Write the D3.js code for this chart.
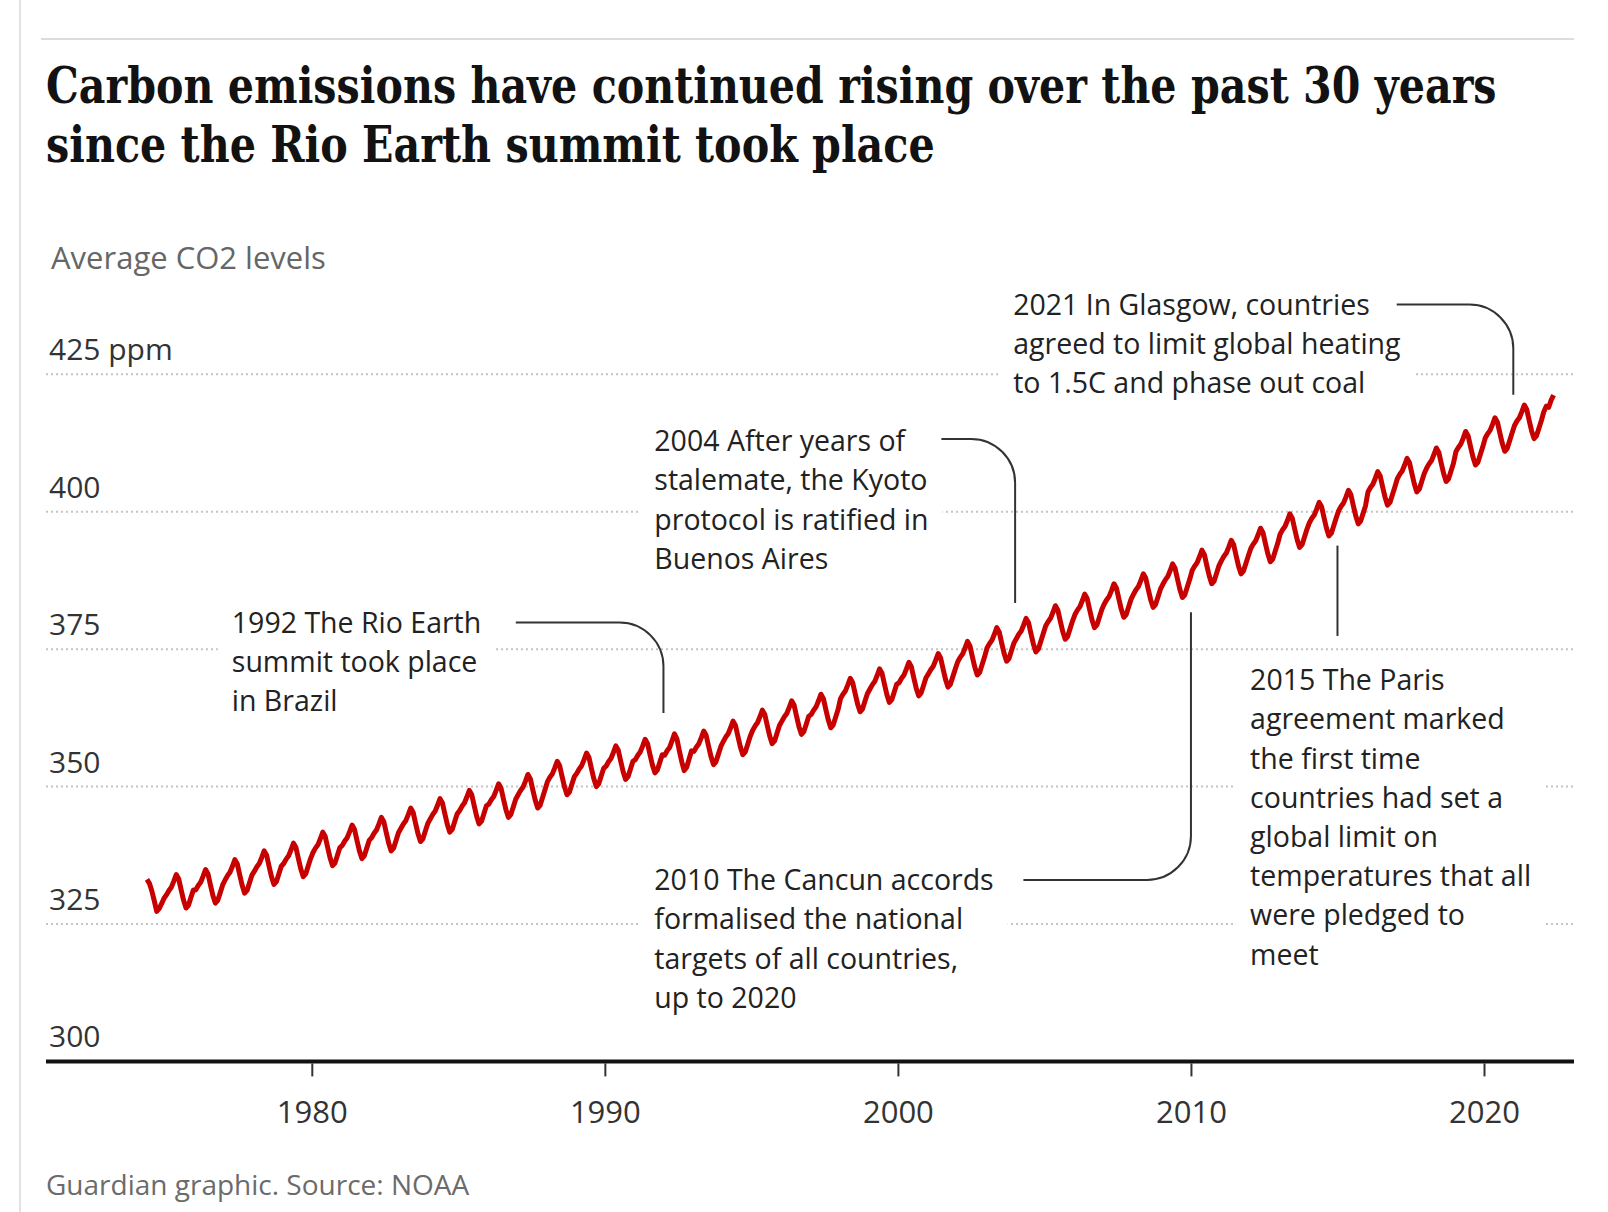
<!DOCTYPE html>
<meta charset="utf-8">
<script src="https://d3js.org/d3.v7.min.js"></script>
<style>
  body { margin: 0; background: #fff; }
  svg text { font-family: "Open Sans", sans-serif; }
</style>
<div id="chart"></div>
<script>

// Monthly mean CO2 (ppm), Mauna Loa. Series starts May 1974
var startYear = 1974, startMonth = 5;

var co2_1970s = [
  333.1, 332.4, 331.0, 329.2, 327.3, 327.8, 328.7, 329.7,
  330.3, 331.1, 331.7, 332.8, 334.0, 333.2, 331.2, 329.3, 327.9, 328.4, 329.8, 331.2,
  331.2, 332.0, 332.6, 333.7, 334.9, 334.1, 332.1, 330.2, 328.8, 329.3, 330.7, 332.1,
  333.0, 333.8, 334.4, 335.5, 336.7, 335.9, 333.9, 332.0, 330.6, 331.1, 332.5, 333.9,
  334.6, 335.4, 336.0, 337.1, 338.3, 337.5, 335.5, 333.6, 332.2, 332.7, 334.1, 335.5,
  336.0, 336.8, 337.4, 338.5, 339.7, 338.9, 336.9, 335.0, 333.6, 334.1, 335.5, 336.9
];
var co2_1980s = [
  338.0, 338.8, 339.4, 340.5, 341.7, 340.9, 338.9, 337.0, 335.6, 336.1, 337.5, 338.9,
  339.3, 340.1, 340.7, 341.8, 343.0, 342.2, 340.2, 338.3, 336.9, 337.4, 338.8, 340.2,
  340.7, 341.5, 342.1, 343.2, 344.4, 343.6, 341.6, 339.7, 338.3, 338.8, 340.2, 341.6,
  342.4, 343.2, 343.8, 344.9, 346.1, 345.3, 343.3, 341.4, 340.0, 340.5, 341.9, 343.3,
  344.1, 344.9, 345.5, 346.6, 347.8, 347.0, 345.0, 343.1, 341.7, 342.2, 343.6, 345.0,
  345.6, 346.4, 347.0, 348.1, 349.3, 348.5, 346.5, 344.6, 343.2, 343.7, 345.1, 346.5,
  346.8, 347.6, 348.2, 349.3, 350.5, 349.7, 347.7, 345.8, 344.4, 344.9, 346.3, 347.7,
  348.5, 349.3, 349.9, 351.0, 352.2, 351.4, 349.4, 347.5, 346.1, 346.6, 348.0, 349.4,
  350.9, 351.7, 352.3, 353.4, 354.6, 353.8, 351.8, 349.9, 348.5, 349.0, 350.4, 351.8,
  352.4, 353.2, 353.8, 354.9, 356.1, 355.3, 353.3, 351.4, 350.0, 350.5, 351.9, 353.3
];
var co2_1990s = [
  353.7, 354.5, 355.1, 356.2, 357.4, 356.6, 354.6, 352.7, 351.3, 351.8, 353.2, 354.6,
  354.9, 355.7, 356.3, 357.4, 358.6, 357.8, 355.8, 353.9, 352.5, 353.0, 354.4, 355.8,
  355.7, 356.5, 357.1, 358.3, 359.6, 358.7, 356.5, 354.5, 352.9, 353.5, 355.0, 356.5,
  356.4, 357.2, 357.8, 358.9, 360.1, 359.3, 357.3, 355.4, 354.0, 354.5, 355.9, 357.3,
  358.2, 359.0, 359.6, 360.7, 361.9, 361.1, 359.1, 357.2, 355.8, 356.3, 357.7, 359.1,
  360.2, 361.0, 361.6, 362.7, 363.9, 363.1, 361.1, 359.2, 357.8, 358.3, 359.7, 361.1,
  361.9, 362.7, 363.3, 364.4, 365.6, 364.8, 362.8, 360.9, 359.5, 360.0, 361.4, 362.8,
  363.1, 363.9, 364.5, 365.6, 366.8, 366.0, 364.0, 362.1, 360.7, 361.2, 362.6, 364.0,
  366.0, 366.8, 367.4, 368.5, 369.7, 368.9, 366.9, 365.0, 363.6, 364.1, 365.5, 366.9,
  367.7, 368.5, 369.1, 370.2, 371.4, 370.6, 368.6, 366.7, 365.3, 365.8, 367.2, 368.6
];
var co2_2000s = [
  368.9, 369.7, 370.3, 371.4, 372.6, 371.8, 369.8, 367.9, 366.5, 367.0, 368.4, 369.8,
  370.5, 371.3, 371.9, 373.0, 374.2, 373.4, 371.4, 369.5, 368.1, 368.6, 370.0, 371.4,
  372.7, 373.5, 374.1, 375.2, 376.4, 375.6, 373.6, 371.7, 370.3, 370.8, 372.2, 373.6,
  375.2, 376.0, 376.6, 377.7, 378.9, 378.1, 376.1, 374.2, 372.8, 373.3, 374.7, 376.1,
  376.9, 377.7, 378.3, 379.4, 380.6, 379.8, 377.8, 375.9, 374.5, 375.0, 376.4, 377.8,
  379.2, 380.0, 380.6, 381.7, 382.9, 382.1, 380.1, 378.2, 376.8, 377.3, 378.7, 380.1,
  381.3, 382.1, 382.7, 383.8, 385.0, 384.2, 382.2, 380.3, 378.9, 379.4, 380.8, 382.2,
  383.2, 384.0, 384.6, 385.7, 386.9, 386.1, 384.1, 382.2, 380.8, 381.3, 382.7, 384.1,
  385.0, 385.8, 386.4, 387.5, 388.7, 387.9, 385.9, 384.0, 382.6, 383.1, 384.5, 385.9,
  386.8, 387.6, 388.2, 389.3, 390.5, 389.7, 387.7, 385.8, 384.4, 384.9, 386.3, 387.7
];
var co2_2010s = [
  389.3, 390.1, 390.7, 391.8, 393.0, 392.2, 390.2, 388.3, 386.9, 387.4, 388.8, 390.2,
  391.1, 391.9, 392.5, 393.6, 394.8, 394.0, 392.0, 390.1, 388.7, 389.2, 390.6, 392.0,
  393.3, 394.1, 394.7, 395.8, 397.0, 396.2, 394.2, 392.3, 390.9, 391.4, 392.8, 394.2,
  395.9, 396.7, 397.3, 398.4, 399.6, 398.8, 396.8, 394.9, 393.5, 394.0, 395.4, 396.8,
  398.0, 398.8, 399.4, 400.5, 401.7, 400.9, 398.9, 397.0, 395.6, 396.1, 397.5, 398.9,
  400.2, 401.0, 401.6, 402.7, 403.9, 403.1, 401.1, 399.2, 397.8, 398.3, 399.7, 401.1,
  403.6, 404.4, 405.0, 406.1, 407.3, 406.5, 404.5, 402.6, 401.2, 401.7, 403.1, 404.5,
  406.0, 406.8, 407.4, 408.5, 409.7, 408.9, 406.9, 405.0, 403.6, 404.1, 405.5, 406.9,
  407.9, 408.7, 409.3, 410.4, 411.6, 410.8, 408.8, 406.9, 405.5, 406.0, 407.4, 408.8,
  410.9, 411.7, 412.3, 413.4, 414.6, 413.8, 411.8, 409.9, 408.5, 409.0, 410.4, 411.8
];
var co2_2020s = [
  413.4, 414.2, 414.8, 415.9, 417.1, 416.3, 414.3, 412.4, 411.0, 411.5, 412.9, 414.3,
  415.7, 416.5, 417.1, 418.2, 419.4, 418.6, 416.6, 414.7, 413.3, 413.8, 415.2, 416.6,
  418.2, 419.2, 419.0, 420.3, 421.2
];

// Axis ticks
var xTicks = [1980, 1990, 2000, 2010, 2020];
var yTicks = [300, 325, 350, 375, 400, 425];
var yTickLabels = ["300", "325", "350", "375", "400", "425 ppm"];

// Annotations: year of the event, ppm where the leader stops, text
var eventYears = [1992, 2004, 2010, 2015, 2021];
var eventLeaderEnd = [363.4, 383.4, 381.7, 377.4, 421.3];
var eventText = [
  ["1992 The Rio Earth", "summit took place", "in Brazil"],
  ["2004 After years of", "stalemate, the Kyoto", "protocol is ratified in", "Buenos Aires"],
  ["2010 The Cancun accords", "formalised the national", "targets of all countries,", "up to 2020"],
  ["2015 The Paris", "agreement marked", "the first time", "countries had set a", "global limit on", "temperatures that all", "were pledged to", "meet"],
  ["2021 In Glasgow, countries", "agreed to limit global heating", "to 1.5C and phase out coal"]
];

var title = ["Carbon emissions have continued rising over the past 30 years",
             "since the Rio Earth summit took place"];

// ---------- layout ----------
var width = 1608, height = 1212;
var left = 46, right = 1574;

var svg = d3.select("#chart")
  .append("svg")
    .attr("width", width)
    .attr("height", height);

var x = d3.scaleLinear().domain([1980, 2020]).range([311.8, 1484]);
var y = d3.scaleLinear().domain([300, 425]).range([1061.4, 374.3]);

// page furniture
svg.append("line")
  .attr("x1", 20).attr("x2", 20).attr("y1", 0).attr("y2", height)
  .attr("stroke", "#e2e2e2").attr("stroke-width", 2);
svg.append("line")
  .attr("x1", 41).attr("x2", right).attr("y1", 39).attr("y2", 39)
  .attr("stroke", "#dcdcdc").attr("stroke-width", 2);

// title, squeezed horizontally to the condensed headline width
var titleWidth = [1451, 889];
svg.selectAll(".title")
  .data(title)
  .enter().append("text")
    .attr("class", "title")
    .style("font-family", "'DejaVu Serif', serif")
    .style("font-weight", "bold")
    .style("font-size", "50px")
    .attr("fill", "#121212")
    .text(function(d) { return d; })
    .each(function(d, i) {
      var sx = titleWidth[i] / this.getComputedTextLength();
      d3.select(this).attr("transform",
        "translate(" + left + "," + (102.5 + i * 59.5) + ") scale(" + sx + ",1)");
    });

svg.append("text")
  .attr("x", 51).attr("y", 268.5)
  .style("font-size", "31px")
  .attr("fill", "#666")
  .text("Average CO2 levels");

// gridlines
svg.selectAll(".grid")
  .data(yTicks.slice(1))
  .enter().append("line")
    .attr("class", "grid")
    .attr("x1", left).attr("x2", right)
    .attr("y1", function(d) { return y(d); })
    .attr("y2", function(d) { return y(d); })
    .attr("stroke", "#c4c4c4")
    .attr("stroke-width", 2)
    .attr("stroke-dasharray", "2,3");

svg.selectAll(".ylab")
  .data(yTicks)
  .enter().append("text")
    .attr("class", "ylab")
    .attr("x", 49)
    .attr("y", function(d) { return y(d) - 14; })
    .style("font-size", "30px")
    .attr("fill", "#333")
    .text(function(d, i) { return yTickLabels[i]; });

// annotations (text positions are layout only)
var textPos = [[231.8, 632.7], [654.3, 451.2], [654.3, 890.1], [1250.1, 690.2], [1013.2, 314.8]];
var lineH = 39.2;
var pad = 14;

var notes = svg.selectAll(".note")
  .data(eventText)
  .enter().append("g")
    .attr("class", "note");

notes.each(function(lines, k) {
  var g = d3.select(this);
  var t = g.append("text")
    .style("font-size", "28.5px")
    .attr("fill", "#222");
  t.selectAll("tspan")
    .data(lines)
    .enter().append("tspan")
      .attr("x", textPos[k][0])
      .attr("y", function(d, i) { return textPos[k][1] + i * lineH; })
      .text(function(d) { return d; });
  var b = t.node().getBBox();
  g.insert("rect", "text")
    .attr("x", b.x - pad).attr("y", b.y - pad / 2)
    .attr("width", b.width + 2 * pad).attr("height", b.height + pad)
    .attr("fill", "#fff");
});

// leader lines
var r = 44;
var leaderStart = [[515.8, 622.5], [941.4, 438.9], [1023.4, 879.9], [null, 545.6], [1396.7, 304.6]];
var leaders = eventYears.map(function(yr, k) {
  var X = x(yr), yEnd = y(eventLeaderEnd[k]), s = leaderStart[k];
  if (s[0] === null) return "M" + X + "," + s[1] + "V" + yEnd;
  var up = yEnd < s[1];
  var cy = up ? s[1] - r : s[1] + r;
  return "M" + s[0] + "," + s[1] + "H" + (X - r) +
         "A" + r + "," + r + " 0 0 " + (up ? 0 : 1) + " " + X + "," + cy +
         "V" + yEnd;
});

svg.selectAll(".leader")
  .data(leaders)
  .enter().append("path")
    .attr("class", "leader")
    .attr("d", function(d) { return d; })
    .attr("fill", "none")
    .attr("stroke", "#333")
    .attr("stroke-width", 2);

// CO2 line
var values = co2_1970s.concat(co2_1980s, co2_1990s, co2_2000s, co2_2010s, co2_2020s);
var data = values.map(function(v, i) {
  return { t: startYear + (startMonth - 1 + i + 0.5) / 12, v: v };
});

svg.append("path")
  .datum(data)
  .attr("fill", "none")
  .attr("stroke", "#c70000")
  .attr("stroke-width", 5)
  .attr("stroke-linejoin", "round")
  .attr("d", d3.line()
    .x(function(d) { return x(d.t); })
    .y(function(d) { return y(d.v); }));

// x axis
svg.append("line")
  .attr("x1", left).attr("x2", right)
  .attr("y1", y(300)).attr("y2", y(300))
  .attr("stroke", "#121212")
  .attr("stroke-width", 4);

var xAxis = svg.append("g")
  .attr("transform", "translate(0," + (y(300) + 2) + ")")
  .call(d3.axisBottom(x).tickValues(xTicks).tickFormat(d3.format("d")).tickSize(13).tickPadding(25));
xAxis.select(".domain").remove();
xAxis.selectAll(".tick line").attr("stroke", "#333").attr("stroke-width", 2);
xAxis.selectAll(".tick text")
  .style("font-family", "'Open Sans', sans-serif")
  .style("font-size", "31px")
  .attr("fill", "#333");

// footer
svg.append("text")
  .attr("x", left).attr("y", 1195)
  .style("font-size", "28px")
  .attr("fill", "#6b6b6b")
  .text("Guardian graphic. Source: NOAA");

</script>
